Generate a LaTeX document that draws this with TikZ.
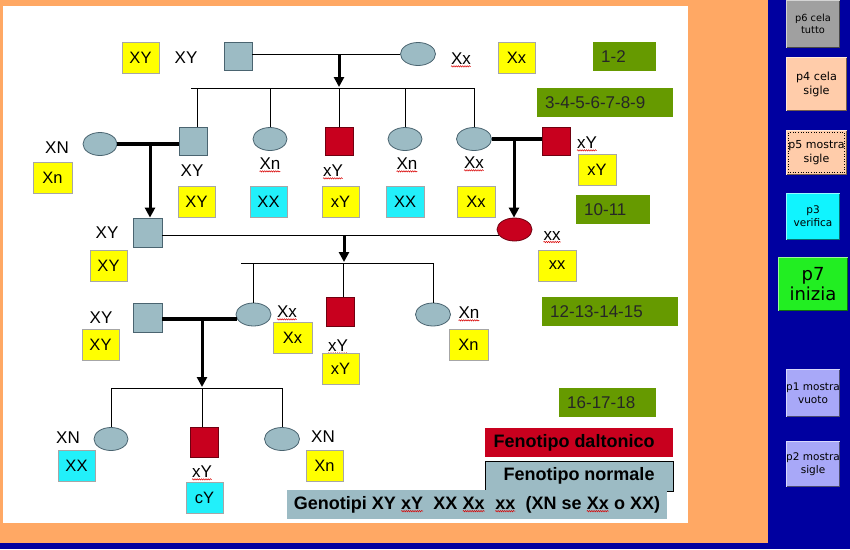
\documentclass[tikz,border=0pt]{standalone}
\usepackage{fontspec}
\setmainfont{Liberation Sans}
\newfontfamily\btnfont{DejaVu Sans}
\usetikzlibrary{arrows.meta,decorations.pathmorphing,shapes.geometric}
\definecolor{bgorange}{HTML}{FFA864}
\definecolor{bgblue}{HTML}{0000A0}
\definecolor{gb}{HTML}{9CBBC4}
\definecolor{gbdraw}{HTML}{4A6470}
\definecolor{dred}{HTML}{C8001E}
\definecolor{dreddraw}{HTML}{700010}
\definecolor{ylw}{HTML}{FFFF00}
\definecolor{cyn}{HTML}{22F0FA}
\definecolor{grn}{HTML}{669A00}
\definecolor{peach}{HTML}{FFCCAA}
\definecolor{lav}{HTML}{A8A8F8}
\definecolor{btngrey}{HTML}{A0A0A0}
\definecolor{btncyan}{HTML}{10F4FF}
\definecolor{btngreen}{HTML}{22EE22}
\newcommand\sq[1]{\tikz[baseline=(sqw.base)]{\node[shape=rectangle,inner sep=0pt,outer sep=0pt,draw=none,fill=none,minimum width=0pt,minimum height=0pt,anchor=base](sqw){#1};\draw[red!85!black,line width=0.5pt,decorate,decoration={snake,amplitude=0.7pt,segment length=2.2pt}]([yshift=-2pt]sqw.base west)--([yshift=-2pt]sqw.base east);}}
\tikzset{
  man/.style={rectangle,fill=gb,draw=gbdraw,line width=0.8pt,minimum width=28pt,minimum height=28pt,inner sep=0pt},
  woman/.style={ellipse,fill=gb,draw=gbdraw,line width=0.8pt,minimum width=35pt,minimum height=23pt,inner sep=0pt},
  rman/.style={man,fill=dred,draw=dreddraw},
  rwoman/.style={woman,fill=dred,draw=dreddraw},
  ybox/.style={rectangle,fill=ylw,draw=black!35,line width=0.6pt,minimum width=37pt,minimum height=31pt,inner sep=0pt,font=\fontsize{16.5}{18}\selectfont},
  cbox/.style={ybox,fill=cyn},
  lbl/.style={inner sep=0pt,font=\fontsize{17}{19}\selectfont},
  gbox/.style={rectangle,fill=grn,anchor=west,minimum height=29pt,inner xsep=8pt,inner ysep=0pt,align=left,font=\fontsize{17}{19}\selectfont,text=black!85},
  legbox/.style={rectangle,minimum height=29pt,inner sep=0pt,font=\bfseries\fontsize{18}{20}\selectfont},
  kin/.style={line width=1pt,black},
  couple/.style={line width=4pt,black},
  desc/.style={line width=3pt,black,-{Triangle[width=10pt,length=10pt]}},
  btntext/.style={inner sep=0pt,align=center,text=black},
}
\newcommand\btn[8]{%
  \fill[#5] (#1,#2) rectangle (#3,#4);
  \draw[white!55!#5,line width=1pt] (#1+0.5,#4-0.5) -- (#1+0.5,#2+0.5) -- (#3-0.5,#2+0.5);
  \draw[black!55!#5,line width=1pt] (#3-0.5,#2+0.5) -- (#3-0.5,#4-0.5) -- (#1+0.5,#4-0.5);
  \begin{scope}
    \clip (#1+1,#2+1) rectangle (#3-1,#4-1);
    \node[btntext,font=\btnfont#6\selectfont] (#8) at ({(#1+#3)/2},{(#2+#4)/2}) {#7};
  \end{scope}}
\begin{document}
\begin{tikzpicture}[x=1pt,y=-1pt]
\useasboundingbox (0,0) rectangle (850,549);
% background
\fill[bgblue] (0,0) rectangle (850,549);
\fill[bgorange] (0,0) rectangle (768,543);
\fill[white] (3,6) rectangle (688,523);

% ---------- generation 1
\node[ybox] (yb1) at (140.5,57.5) {XY};
\node[lbl] (t1) at (186,58) {XY};
\node[man] (sq1) at (238,56.5) {};
\node[woman] (el1) at (418,54) {};
\node[lbl] (t2) at (461,60) {\sq{Xx}};
\node[ybox] (yb2) at (516.5,57.5) {Xx};
\node[gbox,text width=47pt] (g1) at (593,56.5) {1-2};

\draw[kin] (sq1.east |- el1.west) -- (el1.west);
\coordinate (d1) at (339,54);
\coordinate (d1e) at (339,87);
\draw[desc] (d1) -- (d1e);
\coordinate (s1a) at (191,88);
\coordinate (s1b) at (474,88);
\draw[kin] (s1a) -- (s1b);

% ---------- generation 2
\node[woman,minimum width=34pt] (el2) at (100,144) {};
\node[lbl] (t3) at (57,148) {XN};
\node[ybox,minimum width=39pt] (yb3) at (52.5,177.5) {Xn};
\node[man] (sq2) at (193,141) {};
\node[lbl] (t4) at (192,171) {XY};
\node[ybox] (yb4) at (196.5,201.5) {XY};
\node[woman,minimum width=34pt] (el3) at (270,139) {};
\node[lbl] (t5) at (270,165) {\sq{Xn}};
\node[cbox] (cb1) at (268.5,201.5) {XX};
\node[rman] (rsq1) at (339,141) {};
\node[lbl] (t6) at (333,172) {\sq{xY}};
\node[ybox] (yb5) at (340.5,201.5) {xY};
\node[woman,minimum width=34pt] (el4) at (405,139) {};
\node[lbl] (t7) at (407,165) {\sq{Xn}};
\node[cbox,minimum width=38pt] (cb2) at (405,201.5) {XX};
\node[woman] (el5) at (474,139) {};
\node[lbl] (t8) at (474,164) {\sq{Xx}};
\node[ybox,minimum width=38pt] (yb6) at (476,201.5) {Xx};
\node[rman] (rsq2) at (556.5,141) {};
\node[lbl] (t9) at (587,144) {\sq{xY}};
\node[ybox,minimum width=38pt] (yb7) at (597,169.5) {xY};
\node[gbox,text width=120pt] (g2) at (537,102.5) {3-4-5-6-7-8-9};
\node[gbox,text width=58pt] (g3) at (576,209.5) {10-11};

\coordinate (v1) at (197,88);
\draw[kin] (v1) -- (v1 |- sq2.north);
\draw[kin] (el3.north |- s1a) -- (el3.north);
\draw[kin] (rsq1.north |- s1a) -- (rsq1.north);
\draw[kin] (el4.north |- s1a) -- (el4.north);
\draw[kin] (s1b) -- (el5.north);

\draw[couple] (el2.east) -- (el2.east -| sq2.west);
\draw[couple] (el5.east) -- (el5.east -| rsq2.west);

% ---------- generation 3
\node[rwoman] (rel) at (514.5,229.5) {};
\node[lbl] (t10) at (552,237) {\sq{xx}};
\node[ybox,minimum width=38pt] (yb8) at (557,265.5) {xx};
\node[man,minimum width=29pt,minimum height=29pt] (sq3) at (147.5,232.5) {};
\node[lbl] (t11) at (107,233) {XY};
\node[ybox] (yb9) at (108.5,265.5) {XY};

\coordinate (d2) at (150,144);
\draw[desc] (d2) -- (d2 |- sq3.north);
\coordinate (d3) at (514,139);
\draw[desc] (d3) -- (d3 |- rel.north);

\coordinate (c3) at (499,235);
\draw[kin] (sq3.east |- c3) -- (c3);
\coordinate (d4) at (344,235);
\coordinate (d4e) at (344,262);
\draw[desc] (d4) -- (d4e);
\coordinate (s3a) at (241,263);
\coordinate (s3b) at (433,263);
\draw[kin] (s3a) -- (s3b);

\node[woman] (el6) at (253.5,314.5) {};
\node[lbl] (t12) at (287,313) {\sq{Xx}};
\node[ybox,minimum width=39pt] (yb10) at (292.5,337.5) {Xx};
\node[rman,minimum height=29pt] (rsq3) at (340,311.5) {};
\node[lbl] (t13) at (338,347) {\sq{xY}};
\node[ybox] (yb11) at (340.5,369) {xY};
\node[woman] (el7) at (433,314.5) {};
\node[lbl] (t14) at (469,314) {\sq{Xn}};
\node[ybox,minimum width=39pt] (yb12) at (468.5,345) {Xn};
\node[gbox,text width=120pt] (g4) at (542,311.5) {12-13-14-15};
\node[man,minimum width=29pt,minimum height=29pt] (sq4) at (147.5,317.5) {};
\node[lbl] (t15) at (101,318) {XY};
\node[ybox] (yb13) at (100.5,345) {XY};

\draw[kin] (el6.north |- s3a) -- (el6.north);
\coordinate (v3) at (343,263);
\draw[kin] (v3) -- (v3 |- rsq3.north);
\draw[kin] (s3b) -- (el7.north);

\coordinate (c4) at (237,319);
\draw[couple] (sq4.east |- c4) -- (c4);
\coordinate (d5) at (202,319);
\coordinate (d5e) at (202,387);
\draw[desc] (d5) -- (d5e);

% ---------- generation 4
\coordinate (s4a) at (111,388);
\coordinate (s4b) at (282,388);
\draw[kin] (s4a) -- (s4b);
\node[woman,minimum width=34pt] (el8) at (111,439) {};
\node[lbl] (t16) at (68,438) {XN};
\node[cbox] (cb3) at (76.5,465.5) {XX};
\node[rman,minimum height=30pt] (rsq4) at (204,442) {};
\node[lbl] (t17) at (202,473) {\sq{xY}};
\node[cbox] (cb4) at (204.5,497.5) {cY};
\node[woman] (el9) at (282,439) {};
\node[lbl] (t18) at (323,437) {XN};
\node[ybox] (yb14) at (324.5,465.5) {Xn};
\node[gbox,text width=81pt] (g5) at (559,402.5) {16-17-18};

\draw[kin] (s4a) -- (el8.north);
\draw[kin] (d5e |- s4a) -- (d5e |- rsq4.north);
\draw[kin] (s4b) -- (el9.north);

% ---------- legend
\node[legbox,fill=dred,minimum width=188pt] (leg1) at (579,442.5) {Fenotipo daltonico\hspace*{10pt}};
\node[legbox,fill=gb,draw=black,line width=0.8pt,minimum width=188pt,minimum height=30pt] (leg2) at (579,476) {Fenotipo normale};
\node[legbox,fill=gb,minimum width=380pt] (leg3) at (477,504.5) {Genotipi XY \sq{xY}\ \ XX \sq{Xx}\ \ \sq{xx}\ \ (XN se \sq{Xx} o XX)};

% ---------- buttons
\btn{786}{0}{840}{48}{btngrey}{\fontsize{9.8}{12}}{p6 cela\\tutto}{b6}
\btn{786}{57}{847}{111}{peach}{\fontsize{11.2}{14}}{p4 cela\\sigle}{b4}
\btn{786}{130}{847}{175}{peach}{\fontsize{11}{14}}{p5 mostra\\sigle}{b5}
\draw[black,dotted,line width=0.6pt] (788.5,132.5) rectangle (844.5,172.5);
\btn{786}{193}{840}{240}{btncyan}{\fontsize{10.5}{13}}{p3\\verifica}{b3}
\btn{778}{257}{848}{311}{btngreen}{\fontsize{18}{20}}{p7\\inizia}{b7}
\btn{786}{369}{840}{417}{lav}{\fontsize{10.5}{13}}{p1 mostra\\vuoto}{b1}
\btn{786}{441}{840}{487}{lav}{\fontsize{10.5}{13}}{p2 mostra\\sigle}{b2}
\end{tikzpicture}
\end{document}
